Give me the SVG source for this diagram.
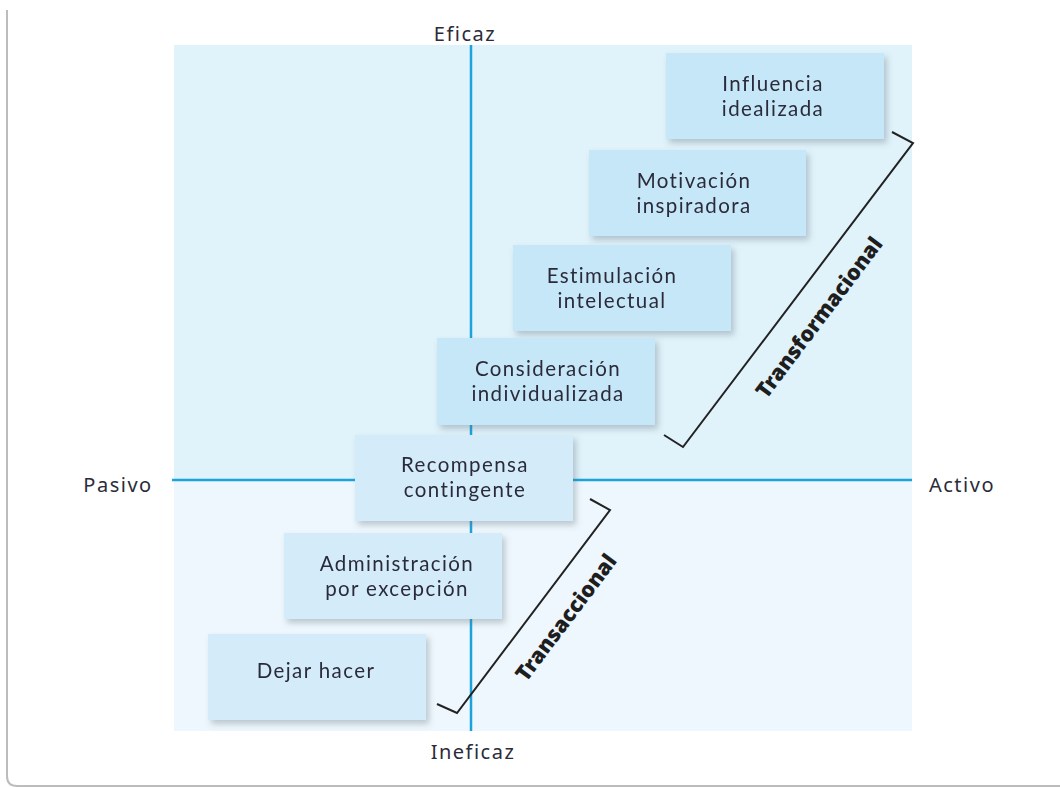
<svg xmlns="http://www.w3.org/2000/svg" width="1060" height="787" viewBox="0 0 1060 787">
  <style>
    .axis-label { font-family: "Noto Sans", "Lato", sans-serif; font-size: 20px; letter-spacing: 1.5px; fill: #2b2b3a; }
    .box-text { font-family: "Lato", "Noto Sans", sans-serif; font-size: 20.5px; letter-spacing: 1.4px; fill: #2b2b3a; text-anchor: middle; }
    .group-label { font-family: "Noto Sans", "Lato", sans-serif; font-size: 21.5px; font-weight: 900; fill: #1e1e1e; text-anchor: middle; }
    .box-top { fill: #c6e7f8; }
    .box-low { fill: #d4ecf9; }
    .axis { stroke: #1aa3dc; stroke-width: 2.5; fill: none; }
    .bracket { stroke: #222; stroke-width: 2; fill: none; stroke-linejoin: miter; }
  </style>
  <defs>
    <filter id="shadow" x="-10%" y="-10%" width="130%" height="140%">
      <feDropShadow dx="3" dy="4" stdDeviation="3" flood-color="#5a6a78" flood-opacity="0.35"/>
    </filter>
  </defs>

  <!-- page frame -->
  <rect width="1060" height="787" fill="#ffffff"/>
  <path d="M7,10 V776 Q7,786 17,786 H1060" fill="none" stroke="#bcbcbc" stroke-width="2"/>

  <!-- quadrant background -->
  <rect x="174" y="45" width="738" height="435" fill="#e0f2fa"/>
  <rect x="174" y="480" width="738" height="251" fill="#eef7fd"/>

  <!-- axes -->
  <g id="axes">
    <line class="axis" x1="471" y1="45" x2="471" y2="731"/>
    <line class="axis" x1="172" y1="480" x2="912" y2="480"/>
    <text class="axis-label" x="465" y="41" text-anchor="middle">Eficaz</text>
    <text class="axis-label" x="473" y="759" text-anchor="middle">Ineficaz</text>
    <text class="axis-label" x="118" y="492" text-anchor="middle">Pasivo</text>
    <text class="axis-label" x="962" y="492" text-anchor="middle">Activo</text>
  </g>

  <!-- leadership factors -->
  <g id="influencia" filter="url(#shadow)">
    <rect class="box-top" x="666" y="53" width="218" height="86"/>
    <text class="box-text" x="773" y="91">Influencia</text>
    <text class="box-text" x="773" y="116">idealizada</text>
  </g>
  <g id="motivacion" filter="url(#shadow)">
    <rect class="box-top" x="589" y="150" width="217" height="86"/>
    <text class="box-text" x="694" y="188">Motivación</text>
    <text class="box-text" x="694" y="213">inspiradora</text>
  </g>
  <g id="estimulacion" filter="url(#shadow)">
    <rect class="box-top" x="513" y="245" width="218" height="86"/>
    <text class="box-text" x="612" y="283">Estimulación</text>
    <text class="box-text" x="612" y="308">intelectual</text>
  </g>
  <g id="consideracion" filter="url(#shadow)">
    <rect class="box-top" x="437" y="338" width="218" height="87"/>
    <text class="box-text" x="548" y="376">Consideración</text>
    <text class="box-text" x="548" y="401">individualizada</text>
  </g>
  <g id="recompensa" filter="url(#shadow)">
    <rect class="box-low" x="355" y="435" width="218" height="86"/>
    <text class="box-text" x="465" y="472">Recompensa</text>
    <text class="box-text" x="465" y="497">contingente</text>
  </g>
  <g id="administracion" filter="url(#shadow)">
    <rect class="box-low" x="284" y="533" width="218" height="86"/>
    <text class="box-text" x="397" y="571">Administración</text>
    <text class="box-text" x="397" y="596">por excepción</text>
  </g>
  <g id="dejar-hacer" filter="url(#shadow)">
    <rect class="box-low" x="208" y="634" width="218" height="86"/>
    <text class="box-text" x="316" y="678">Dejar hacer</text>
  </g>

  <!-- grouping brackets -->
  <g id="connectors">
    <path class="bracket" d="M892,132 L913,143 L683,447 L664,435"/>
    <path class="bracket" d="M590,499 L610,510 L457,713 L437,704"/>
  </g>
  <g id="transformacional">
    <text class="group-label" transform="translate(825,322) rotate(-53)">Transformacional</text>
  </g>
  <g id="transaccional">
    <text class="group-label" transform="translate(572,622) rotate(-53)">Transaccional</text>
  </g>
</svg>
